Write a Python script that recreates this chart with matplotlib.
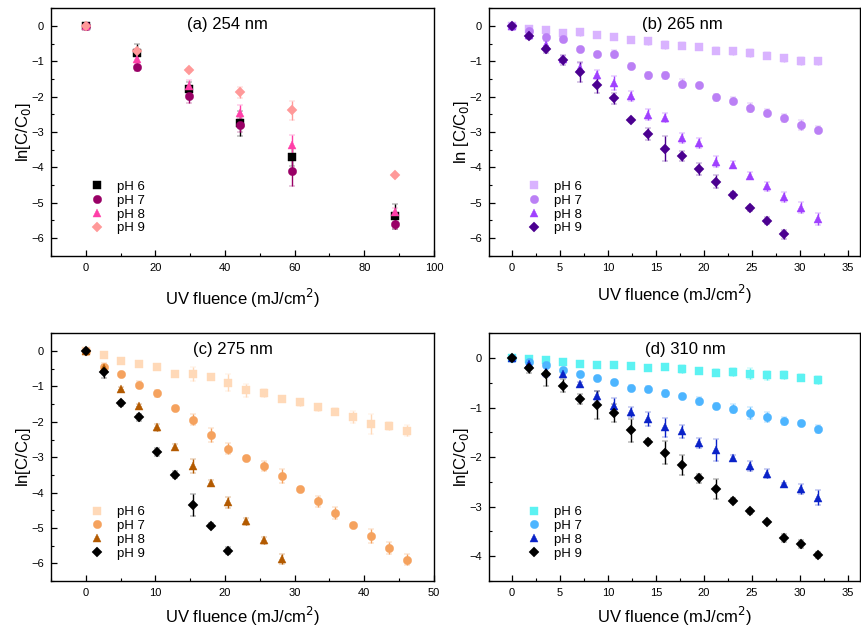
import matplotlib
matplotlib.use("Agg")
import matplotlib.pyplot as plt
from matplotlib.ticker import MultipleLocator
import numpy as np

plt.rcParams['font.family'] = ['Liberation Sans', 'DejaVu Sans']

labels = ["pH 6", "pH 7", "pH 8", "pH 9"]
markers = ["s", "o", "^", "D"]

# ---------- (a) 254 nm ----------
a_x = [0, 14.8, 29.6, 44.4, 59.3, 88.9]
a_y6 = [0, -0.77, -1.79, -2.75, -3.70, -5.38]
a_e6 = [0, 0.25, 0.2, 0.35, 0.25, 0.35]
a_y7 = [0, -1.15, -1.98, -2.80, -4.11, -5.59]
a_e7 = [0, 0.12, 0.2, 0.2, 0.42, 0.15]
a_y8 = [0, -0.94, -1.69, -2.45, -3.36, -5.26]
a_e8 = [0, 0.12, 0.15, 0.2, 0.28, 0.1]
a_y9 = [0, -0.70, -1.26, -1.88, -2.39, -4.23]
a_e9 = [0, 0.05, 0.05, 0.15, 0.27, 0.03]
a_colors = ["#000000", "#990066", "#FF3FA8", "#FF9999"]

# ---------- (b) 265 nm ----------
b_x = [0, 1.78, 3.55, 5.33, 7.10, 8.88, 10.65, 12.43, 14.20, 15.98, 17.75,
       19.53, 21.30, 23.08, 24.85, 26.63, 28.40, 30.18, 31.95]
b_y6 = [0, -0.08, -0.11, -0.19, -0.18, -0.25, -0.32, -0.41, -0.44, -0.54, -0.56,
        -0.61, -0.70, -0.72, -0.77, -0.84, -0.92, -1.00, -1.00]
b_e6 = [0, 0.05, 0.05, 0.05, 0.1, 0.05, 0.05, 0.05, 0.1, 0.1, 0.1, 0.05, 0.1, 0.1, 0.12, 0.1, 0.1, 0.12, 0.1]
b_y7 = [0, -0.15, -0.32, -0.37, -0.65, -0.80, -0.80, -1.14, -1.40, -1.40, -1.63,
        -1.68, -2.02, -2.12, -2.31, -2.45, -2.60, -2.79, -2.94]
b_e7 = [0, 0.05, 0.05, 0.1, 0.05, 0.05, 0.12, 0.08, 0.1, 0.1, 0.12, 0.05, 0.1, 0.1, 0.12, 0.1, 0.12, 0.14, 0.1]
b_y8 = [0, -0.25, -0.54, -0.95, -1.19, -1.38, -1.62, -1.98, -2.51, -2.60, -3.16,
        -3.32, -3.84, -3.92, -4.24, -4.53, -4.84, -5.14, -5.47]
b_e8 = [0, 0.1, 0.1, 0.1, 0.15, 0.12, 0.2, 0.14, 0.15, 0.13, 0.14, 0.14, 0.15, 0.1, 0.1, 0.13, 0.14, 0.15, 0.17]
b_x9 = b_x[:17]
b_y9 = [0, -0.28, -0.66, -0.96, -1.30, -1.68, -2.05, -2.67, -3.06, -3.47, -3.68,
        -4.06, -4.41, -4.79, -5.16, -5.51, -5.89]
b_e9 = [0, 0.1, 0.1, 0.15, 0.28, 0.22, 0.15, 0.05, 0.17, 0.35, 0.15, 0.17, 0.18, 0.08, 0.08, 0.1, 0.13]
b_colors = ["#D9B3FF", "#BB80F5", "#A040FF", "#4B0090"]

# ---------- (c) 275 nm ----------
c_x = [0, 2.56, 5.12, 7.68, 10.24, 12.80, 15.36, 17.92, 20.48, 23.04, 25.60,
       28.16, 30.72, 33.28, 35.84, 38.40, 40.96, 43.52, 46.08]
c_y6 = [0, -0.11, -0.28, -0.36, -0.46, -0.64, -0.66, -0.74, -0.89, -1.11, -1.19,
        -1.35, -1.45, -1.59, -1.71, -1.85, -2.06, -2.12, -2.25]
c_e6 = [0, 0.05, 0.05, 0.05, 0.05, 0.05, 0.2, 0.05, 0.25, 0.18, 0.12, 0.05, 0.1, 0.1, 0.1, 0.17, 0.28, 0.12, 0.15]
c_y7 = [0, -0.45, -0.66, -0.95, -1.19, -1.61, -1.94, -2.37, -2.76, -3.03, -3.25,
        -3.54, -3.89, -4.25, -4.58, -4.91, -5.24, -5.57, -5.90]
c_e7 = [0, 0.1, 0.05, 0.1, 0.1, 0.05, 0.15, 0.2, 0.15, 0.05, 0.15, 0.2, 0.05, 0.15, 0.17, 0.05, 0.2, 0.17, 0.15]
c_x8 = c_x[:12]
c_y8 = [0, -0.48, -1.06, -1.54, -2.15, -2.72, -3.24, -3.73, -4.28, -4.81, -5.35, -5.88]
c_e8 = [0, 0.1, 0.05, 0.05, 0.1, 0.08, 0.2, 0.08, 0.15, 0.1, 0.1, 0.15]
c_x9 = c_x[:9]
c_y9 = [0, -0.59, -1.48, -1.87, -2.85, -3.50, -4.35, -4.94, -5.64]
c_e9 = [0, 0.18, 0.08, 0.1, 0.12, 0.1, 0.3, 0.07, 0.1]
c_colors = ["#FFD9B8", "#F5A25E", "#B35A00", "#000000"]

# ---------- (d) 310 nm ----------
d_x = b_x
d_y6 = [0, -0.01, -0.04, -0.08, -0.11, -0.13, -0.13, -0.15, -0.20, -0.17, -0.22,
        -0.26, -0.29, -0.28, -0.31, -0.35, -0.34, -0.40, -0.44]
d_e6 = [0, 0.03, 0.03, 0.03, 0.03, 0.03, 0.03, 0.03, 0.03, 0.05, 0.08, 0.06, 0.08, 0.08, 0.11, 0.1, 0.09, 0.07, 0.08]
d_y7 = [0, -0.08, -0.14, -0.24, -0.31, -0.40, -0.48, -0.61, -0.63, -0.71, -0.76,
        -0.87, -0.96, -1.02, -1.11, -1.18, -1.27, -1.31, -1.43]
d_e7 = [0, 0.03, 0.03, 0.03, 0.03, 0.03, 0.03, 0.06, 0.06, 0.07, 0.03, 0.08, 0.06, 0.09, 0.12, 0.1, 0.08, 0.04, 0.08]
d_y8 = [0, -0.11, -0.28, -0.33, -0.53, -0.77, -0.96, -1.08, -1.23, -1.40, -1.48,
        -1.72, -1.86, -2.01, -2.17, -2.33, -2.55, -2.65, -2.82]
d_e8 = [0, 0.05, 0.1, 0.05, 0.05, 0.1, 0.15, 0.1, 0.15, 0.2, 0.13, 0.1, 0.22, 0.06, 0.1, 0.09, 0.03, 0.1, 0.15]
d_y9 = [0, -0.19, -0.31, -0.56, -0.82, -0.95, -1.10, -1.46, -1.69, -1.91, -2.15,
        -2.43, -2.65, -2.88, -3.09, -3.31, -3.64, -3.76, -3.98]
d_e9 = [0, 0.1, 0.25, 0.13, 0.1, 0.28, 0.18, 0.23, 0.05, 0.23, 0.2, 0.1, 0.2, 0.05, 0.05, 0.03, 0.08, 0.08, 0.06]
d_colors = ["#5CF2F2", "#4DB5FF", "#0A22C8", "#000000"]

fig = plt.figure(figsize=(8.61, 6.3), dpi=100)

panels = [
    dict(rect=[0.0592, 0.594, 0.4448, 0.393], title="(a) 254 nm", tx=0.46,
         xs=[a_x, a_x, a_x, a_x], ys=[a_y6, a_y7, a_y8, a_y9], es=[a_e6, a_e7, a_e8, a_e9],
         colors=a_colors, xlim=(-10, 100), ylim=(-6.5, 0.5), xmaj=20, ymaj=1,
         ylabel="ln[C/C$_0$]", xpad=10),
    dict(rect=[0.568, 0.594, 0.431, 0.393], title="(b) 265 nm", tx=0.52,
         xs=[b_x, b_x, b_x, b_x9], ys=[b_y6, b_y7, b_y8, b_y9], es=[b_e6, b_e7, b_e8, b_e9],
         colors=b_colors, xlim=(-2.4, 36.3), ylim=(-6.5, 0.5), xmaj=5, ymaj=1,
         ylabel="ln [C/C$_0$]", xpad=7),
    dict(rect=[0.0592, 0.0778, 0.4448, 0.393], title="(c) 275 nm", tx=0.476,
         xs=[c_x, c_x, c_x8, c_x9], ys=[c_y6, c_y7, c_y8, c_y9], es=[c_e6, c_e7, c_e8, c_e9],
         colors=c_colors, xlim=(-5, 50), ylim=(-6.5, 0.5), xmaj=10, ymaj=1,
         ylabel="ln[C/C$_0$]", xpad=5),
    dict(rect=[0.568, 0.0778, 0.431, 0.393], title="(d) 310 nm", tx=0.53,
         xs=[d_x, d_x, d_x, d_x], ys=[d_y6, d_y7, d_y8, d_y9], es=[d_e6, d_e7, d_e8, d_e9],
         colors=d_colors, xlim=(-2.4, 36.3), ylim=(-4.5, 0.5), xmaj=5, ymaj=1,
         ylabel="ln[C/C$_0$]", xpad=5),
]

for p in panels:
    ax = fig.add_axes(p["rect"])
    handles = []
    for x, y, e, c, m, lab in zip(p["xs"], p["ys"], p["es"], p["colors"], markers, labels):
        ms = 6.0 if m != "D" else 5.5
        cont = ax.errorbar(x, y, yerr=e, fmt=m, color=c, ecolor=c, ms=ms, mec=c, mew=0.3,
                           elinewidth=1.0, capsize=2.5, capthick=1.0, label=lab)
        handles.append(cont[0])
    ax.set_xlim(*p["xlim"])
    ax.set_ylim(*p["ylim"])
    ax.xaxis.set_major_locator(MultipleLocator(p["xmaj"]))
    ax.xaxis.set_minor_locator(MultipleLocator(p["xmaj"] / 2))
    ax.yaxis.set_major_locator(MultipleLocator(p["ymaj"]))
    ax.yaxis.set_minor_locator(MultipleLocator(p["ymaj"] / 2))
    ax.tick_params(which="both", direction="in", top=False, right=False, labelsize=8, pad=5)
    ax.tick_params(which="major", length=4, width=0.9)
    ax.tick_params(which="minor", length=2, width=0.8)
    for s in ax.spines.values():
        s.set_linewidth(1.0)
    ax.set_xlabel("UV fluence (mJ/cm$^2$)", fontsize=12, labelpad=p["xpad"])
    ax.set_ylabel(p["ylabel"], fontsize=12, labelpad=-1)
    ax.text(p["tx"], 0.935, p["title"], transform=ax.transAxes, ha="center", va="center", fontsize=12)
    ax.legend(handles=handles, labels=labels, loc="lower left", bbox_to_anchor=(0.09, 0.065),
              frameon=False, fontsize=9.5, handlelength=1.0, handletextpad=1.0,
              labelspacing=0.12, borderaxespad=0.0)

fig.savefig("out.png", dpi=100)
